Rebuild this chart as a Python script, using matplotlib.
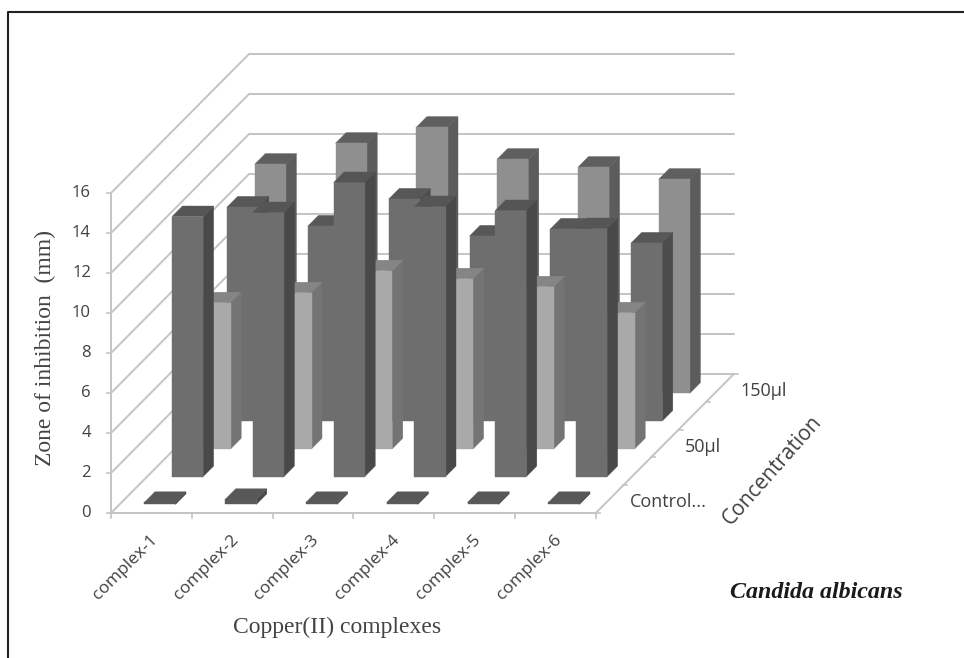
import matplotlib
matplotlib.use('Agg')
import matplotlib.pyplot as plt
from matplotlib.patches import Polygon

categories = ['complex-1', 'complex-2', 'complex-3', 'complex-4', 'complex-5', 'complex-6']
series_labels = ['Control...', '', '50µl', '', '150µl']
y_ticks = [0, 2, 4, 6, 8, 10, 12, 14, 16]

control = [0.1, 0.25, 0.1, 0.1, 0.1, 0.1]
series_b = [13.0, 13.2, 14.7, 13.5, 13.3, 12.4]
conc_50 = [7.3, 7.8, 8.9, 8.5, 8.1, 6.8]
series_d = [10.7, 9.75, 11.1, 9.25, 9.6, 8.9]
conc_150 = [11.45, 12.5, 13.3, 11.7, 11.3, 10.7]
all_series = [control, series_b, conc_50, series_d, conc_150]

# front, side, top shades per series
shades = [('#5a5a5a', '#484848', '#585858'),
          ('#6e6e6e', '#494949', '#555555'),
          ('#a9a9a9', '#747474', '#858585'),
          ('#6e6e6e', '#4c4c4c', '#575757'),
          ('#8f8f8f', '#5c5c5c', '#5f5f5f')]

W, H = 964, 658
fig = plt.figure(figsize=(W / 100, H / 100), dpi=100)
ax = fig.add_axes([0, 0, 1, 1])
ax.set_xlim(0, W)
ax.set_ylim(H, 0)
ax.axis('off')

# oblique projection: category, series depth, value -> picture position
x0, y0 = 111.0, 513.0
cat_w = 80.8
depth_x = 27.6
depth_y = 27.8
unit = 20.0
n_cat = len(categories)
n_ser = len(all_series)

def proj(c, d, v=0):
    return (x0 + c * cat_w + d * depth_x, y0 - d * depth_y - v * unit)

grid = '#c4c4c4'
for t in y_ticks:
    a, b, c = proj(0, 0, t), proj(0, n_ser, t), proj(n_cat, n_ser, t)
    ax.plot([a[0], b[0], c[0]], [a[1], b[1], c[1]], color=grid, lw=1.4, solid_joinstyle='miter', zorder=1)
    tk = proj(0, 0, t)
    ax.plot([tk[0] - 4, tk[0]], [tk[1], tk[1]], color=grid, lw=1.2, zorder=1)
    ax.text(tk[0] - 20, tk[1], str(t), ha='right', va='center', fontsize=12, family='Open Sans', color='#404040')

# axis lines on the floor
a, b = proj(0, 0, 0), proj(0, 0, 16)
ax.plot([a[0], b[0]], [a[1], b[1]], color=grid, lw=1.4, zorder=1)
a, b, c = proj(0, 0), proj(n_cat, 0), proj(n_cat, n_ser)
ax.plot([a[0], b[0], c[0]], [a[1], b[1], c[1]], color=grid, lw=1.4, zorder=1)
for i in range(n_cat + 1):
    p = proj(i, 0)
    ax.plot([p[0], p[0]], [p[1], p[1] + 5], color=grid, lw=1.2, zorder=1)
for s in range(n_ser + 1):
    p = proj(n_cat, s)
    ax.plot([p[0], p[0] + 4], [p[1], p[1]], color=grid, lw=1.2, zorder=1)

# bars, back row first so the nearer ones cover them
bar_w = 0.385
bar_d = 0.38
z = 5
for s in range(n_ser - 1, -1, -1):
    front, side, top = shades[s]
    d0 = s + 0.5 - bar_d / 2
    d1 = s + 0.5 + bar_d / 2
    for i in range(n_cat):
        c0 = i + 0.5 - bar_w / 2
        c1 = i + 0.5 + bar_w / 2
        v = all_series[s][i]
        ax.add_patch(Polygon([proj(c1, d0, 0), proj(c1, d1, 0), proj(c1, d1, v), proj(c1, d0, v)],
                             fc=side, ec=side, lw=0.3, zorder=z))
        ax.add_patch(Polygon([proj(c0, d0, v), proj(c1, d0, v), proj(c1, d1, v), proj(c0, d1, v)],
                             fc=top, ec=top, lw=0.3, zorder=z))
        ax.add_patch(Polygon([proj(c0, d0, 0), proj(c1, d0, 0), proj(c1, d0, v), proj(c0, d0, v)],
                             fc=front, ec=front, lw=0.3, zorder=z))
        z += 1

# tick labels
for i, name in enumerate(categories):
    p = proj(i + 0.5, 0)
    ax.text(p[0] - 2, p[1] + 19, name, rotation=45, ha='right', va='top', rotation_mode='anchor',
            fontsize=12.5, family='Open Sans', color='#404040')
for s, name in enumerate(series_labels):
    if name:
        p = proj(n_cat, s + 0.5)
        ax.text(p[0] + 20, p[1] + 3, name, ha='left', va='center', fontsize=13, family='Open Sans', color='#404040')

ax.text(45, 348, 'Zone of inhibition  (mm)', rotation=90, ha='center', va='center', fontsize=17,
        family='Liberation Serif', color='#444444')
ax.text(337, 627, 'Copper(II) complexes', ha='center', va='center', fontsize=17,
        family='Liberation Serif', color='#444444')
ax.text(772, 470, 'Concentration', rotation=48.6, ha='center', va='center', fontsize=15,
        family='Open Sans', color='#404040')
ax.text(816, 592, 'Candida albicans', ha='center', va='center', fontsize=17.3, style='italic', weight='bold',
        family='Liberation Serif', color='#1a1a1a')

# scanned frame
ax.plot([8, 8, W], [H, 12, 12], color='#222222', lw=1.5, zorder=20)

fig.savefig('out.png', dpi=100)
